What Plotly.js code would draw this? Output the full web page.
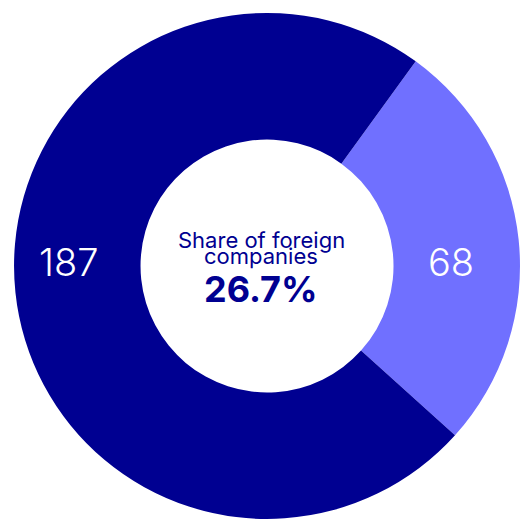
<!DOCTYPE html>
<html>
<head>
<meta charset="utf-8">
<script src="https://cdn.plot.ly/plotly-3.0.1.min.js"></script>
<style>html,body{margin:0;padding:0;background:#fff;}#chart{width:520px;height:520px;}</style>
</head>
<body>
<div id="chart"></div>
<script>
const categories = ["Foreign companies", "Other companies"];
const values = [68, 187];
const colors = ["#7070ff", "#000091"];
const centerLines = ["Share of foreign", "companies"];

const total = values.reduce((a, b) => a + b, 0);
const share = (100 * values[0] / total).toFixed(1) + "%";

const trace = {
  type: "pie",
  labels: categories,
  values: values,
  sort: false,
  direction: "clockwise",
  rotation: 36,
  hole: 0.5,
  marker: { colors: colors, line: { width: 0 } },
  textinfo: "none",
  domain: { x: [0.027, 1], y: [0.002, 0.975] },
  showlegend: false,
  hoverinfo: "none"
};

const valueFont = { family: "Inter, sans-serif", size: 38, color: "#ffffff", weight: 300 };
const centerFont = { family: "Inter, sans-serif", size: 22, color: "#000091", weight: 400 };
const common = { xref: "paper", yref: "paper", showarrow: false, xanchor: "center", yanchor: "middle" };

const layout = {
  width: 520, height: 520,
  margin: { l: 0, r: 0, t: 0, b: 0 },
  paper_bgcolor: "#ffffff",
  showlegend: false,
  annotations: [
    Object.assign({ text: String(values[1]), x: 0.132, y: 0.496, font: valueFont }, common),
    Object.assign({ text: String(values[0]), x: 0.868, y: 0.496, font: valueFont }, common),
    Object.assign({ text: centerLines[0], x: 0.502, y: 0.5394, font: centerFont }, common),
    Object.assign({ text: centerLines[1], x: 0.502, y: 0.5077, font: centerFont }, common),
    Object.assign({ text: "<b>" + share + "</b>", x: 0.502, y: 0.4433,
      font: { family: "Inter, sans-serif", size: 36, color: "#000091", weight: 800 } }, common)
  ]
};

Plotly.newPlot("chart", [trace], layout, { staticPlot: true });
</script>
</body>
</html>
